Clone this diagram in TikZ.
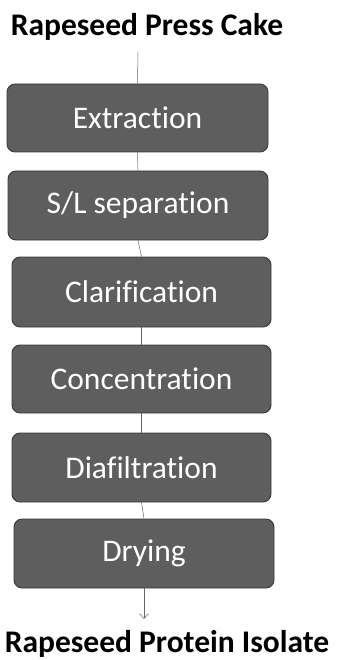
\documentclass[tikz,border=0pt]{standalone}
\usepackage{fontspec}
\setmainfont[Ligatures=NoCommon]{Carlito}
\usetikzlibrary{arrows.meta}
\begin{document}
\begin{tikzpicture}[x=1pt,y=-1pt,
  stepbox/.style={draw=black!78, line width=0.9pt, fill=black!63, rounded corners=8pt,
    text=white, font=\fontsize{31.5}{31.5}\selectfont, inner sep=0pt},
  titletext/.style={font=\bfseries\fontsize{31.5}{31.5}\selectfont, inner sep=0pt, anchor=base},
  conn/.style={draw=black!60, line width=0.5pt}]
\useasboundingbox (0,0) rectangle (341,660);
\node[titletext] (top) at (147,36) {Rapeseed Press Cake};
\node[stepbox, minimum width=261pt, minimum height=68pt] (s1) at (137.5,118) {Extraction};
\node[stepbox, minimum width=260pt, minimum height=69pt] (s2) at (138,205.5) {S/L separation};
\node[stepbox, minimum width=259pt, minimum height=70pt] (s3) at (141.5,292) {Clarification};
\node[stepbox, minimum width=259pt, minimum height=68pt] (s4) at (141.5,379) {Concentration};
\node[stepbox, minimum width=259pt, minimum height=69pt] (s5) at (141.5,467.5) {Diafiltration};
\node[stepbox, minimum width=260pt, minimum height=69pt] (s6) at (144,553.5) {Drying};
\node[titletext] (bot) at (167,652) {Rapeseed Protein Isolate};
\coordinate (c0) at (138,52);
\coordinate (c7) at (144,619);
\draw[conn] (c0) -- (s1.north);
\draw[conn] (s1.south) -- (s2.north);
\draw[conn] (s2.south) -- (s3.north);
\draw[conn] (s3.south) -- (s4.north);
\draw[conn] (s4.south) -- (s5.north);
\draw[conn] (s5.south) -- (s6.north);
\draw[conn, -{Straight Barb[length=5pt,width=9pt]}] (s6.south) -- (c7);
\end{tikzpicture}
\end{document}
